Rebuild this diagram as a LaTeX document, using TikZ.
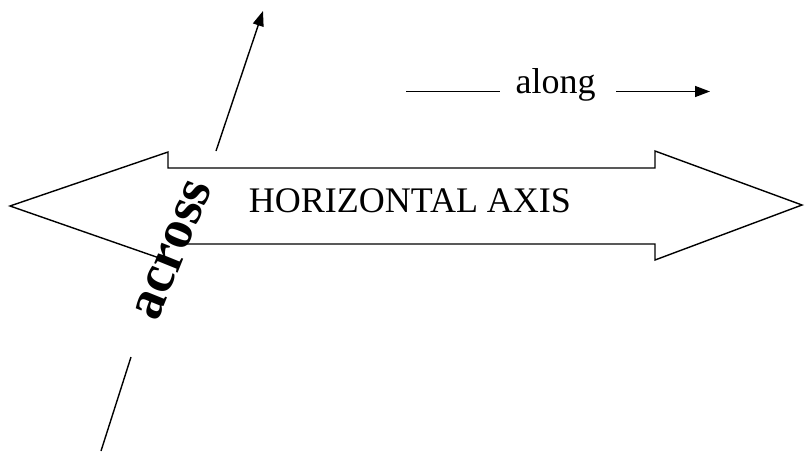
\documentclass[tikz,border=0pt]{standalone}
\usepackage{fontspec}
\setmainfont{Liberation Serif}
\usetikzlibrary{arrows.meta}
\begin{document}
\begin{tikzpicture}[x=1pt,y=-1pt,
  stroke/.style={line width=1.4pt, draw=black},
  tip/.style={-{Triangle[length=15pt,width=11pt]}},
  label/.style={inner sep=0pt, anchor=base}]
\useasboundingbox (0,0) rectangle (805,452);
% double-headed horizontal axis arrow (parts hidden behind "across" are left out)
\draw[stroke, line join=miter] (183,244) -- (655,244) -- (655,260) -- (802,205) -- (655,151)
  -- (655,168) -- (168,168) -- (168,152) -- (10,206) -- (157,257.2);
\node[label] (axis) at (410,212) {\fontsize{36}{36}\selectfont HORIZONTAL AXIS};
% along
\node[label] (along) at (555.5,93.3) {\fontsize{36}{36}\selectfont along};
\coordinate (l1) at (406,91.5);
\coordinate (l2) at (500,91.5);
\coordinate (r1) at (616,91.5);
\coordinate (r2) at (710,91.5);
\draw[stroke] (l1) -- (l2);
\draw[stroke, tip] (r1) -- (r2);
% across
\coordinate (a1) at (216,151);
\coordinate (a2) at (263,11);
\coordinate (b1) at (131,357);
\coordinate (b2) at (101,451);
\draw[stroke, tip] (a1) -- (a2);
\draw[stroke] (b1) -- (b2);
\node[rotate=68, inner sep=0pt] (across) at (173,250) {\fontsize{55}{55}\selectfont\bfseries across};
\end{tikzpicture}
\end{document}
